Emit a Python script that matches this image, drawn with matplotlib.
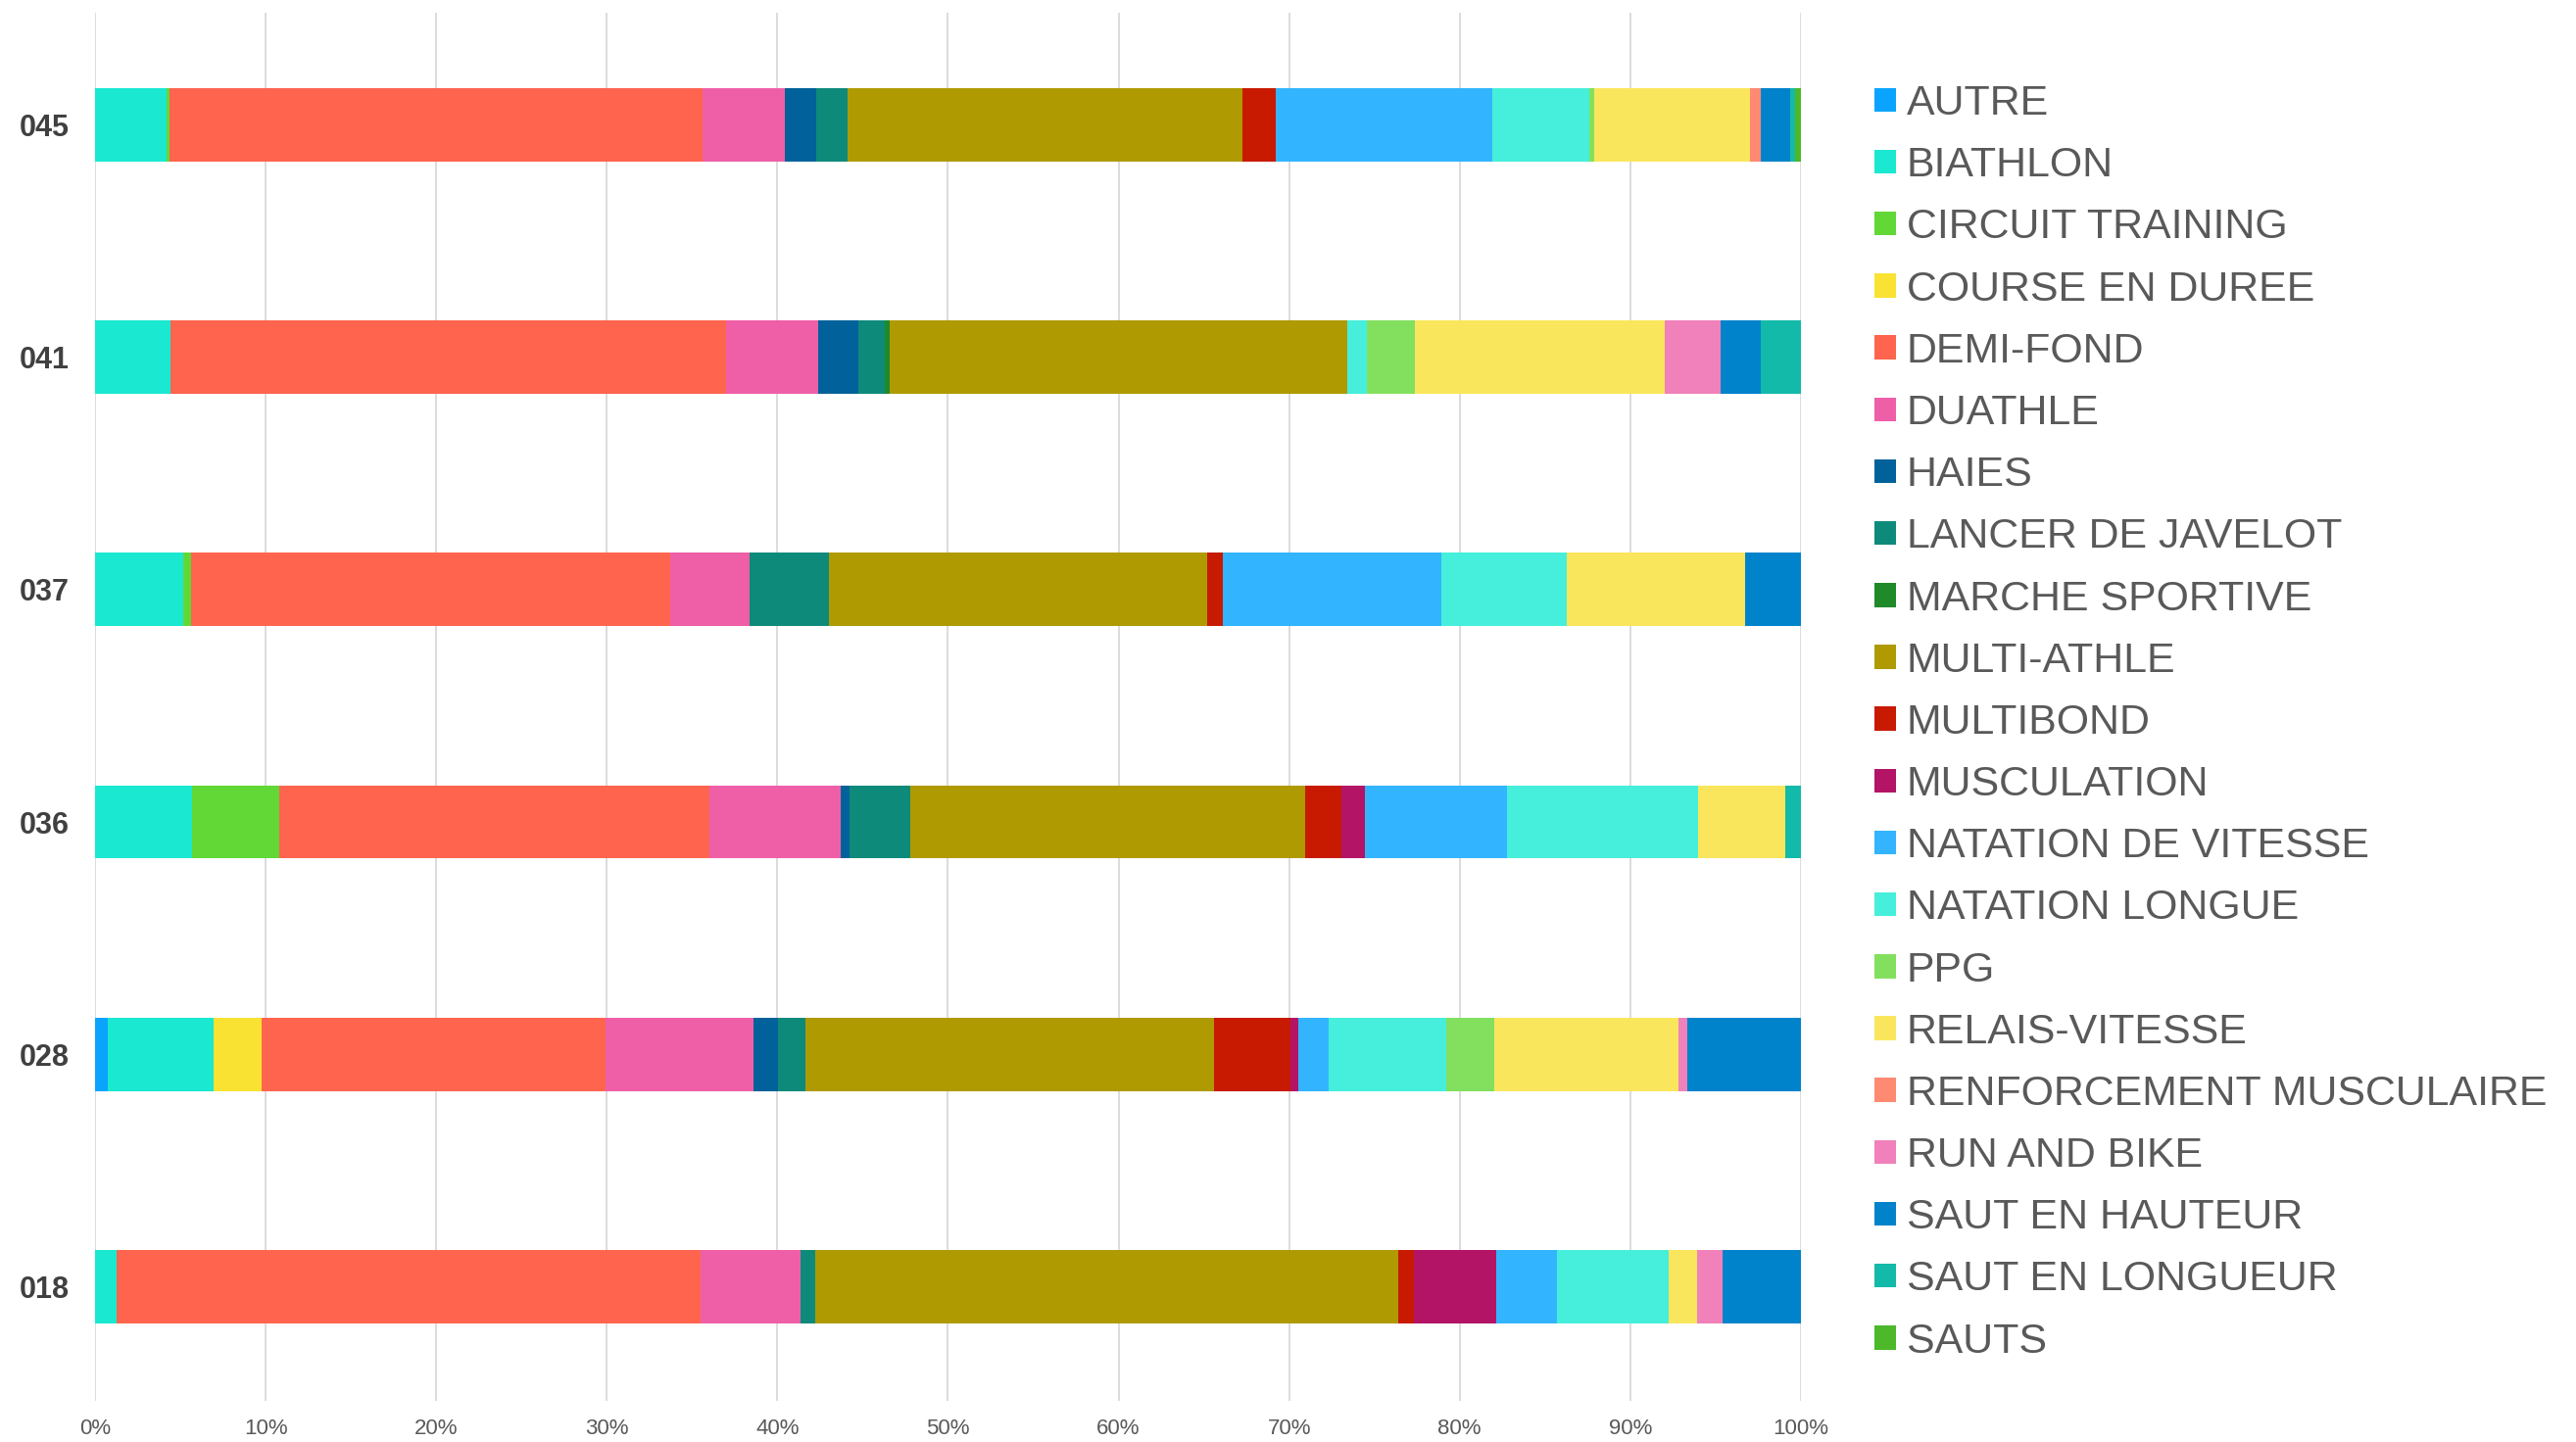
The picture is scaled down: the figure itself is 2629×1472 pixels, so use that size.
import numpy as np
import matplotlib.pyplot as plt
from matplotlib.patches import Patch
from matplotlib.ticker import PercentFormatter

plt.rcParams['font.family'] = ['Liberation Sans', 'DejaVu Sans']

# rows, bottom to top
groups = ['018', '028', '036', '037', '041', '045']

activities = [
    'AUTRE', 'BIATHLON', 'CIRCUIT TRAINING', 'COURSE EN DUREE', 'DEMI-FOND',
    'DUATHLE', 'HAIES', 'LANCER DE JAVELOT', 'MARCHE SPORTIVE', 'MULTI-ATHLE',
    'MULTIBOND', 'MUSCULATION', 'NATATION DE VITESSE', 'NATATION LONGUE', 'PPG',
    'RELAIS-VITESSE', 'RENFORCEMENT MUSCULAIRE', 'RUN AND BIKE',
    'SAUT EN HAUTEUR', 'SAUT EN LONGUEUR', 'SAUTS',
]

colors = [
    '#0AA4FF', '#1AE8D1', '#61D836', '#FAE232', '#FF644E',
    '#EF5FA7', '#01619A', '#0E8A7B', '#1E8A2A', '#AF9A02',
    '#C71A00', '#B31465', '#33B4FF', '#45EFDB', '#83E05F',
    '#FAE65C', '#FF8A72', '#F081BA', '#0183CC', '#13B9A9', '#4CB82A',
]

# share (%) per activity, one list per group in the order of `groups`
g018 = [0, 1.29, 0, 0, 34.23, 5.86, 0, 0.81, 0, 34.23, 0.91, 4.81, 3.55, 6.54, 0,
        1.66, 0, 1.49, 4.62, 0, 0]
g028 = [0.74, 6.22, 0, 2.8, 20.16, 8.66, 1.45, 1.64, 0, 23.94, 4.49, 0.42, 1.8, 6.89, 2.8,
        10.83, 0, 0.49, 6.67, 0, 0]
g036 = [0, 5.67, 5.12, 0, 25.25, 7.66, 0.55, 3.54, 0, 23.13, 2.14, 1.4, 8.33, 11.19, 0,
        5.08, 0, 0, 0, 0.94, 0]
g037 = [0, 5.15, 0.45, 0, 28.12, 4.67, 0, 4.61, 0, 22.22, 0.92, 0, 12.78, 7.35, 0,
        10.48, 0, 0, 3.25, 0, 0]
g041 = [0, 4.44, 0, 0, 32.53, 5.41, 2.39, 1.54, 0.26, 26.82, 0, 0, 0, 1.17, 2.8,
        14.67, 0, 3.25, 2.38, 2.34, 0]
g045 = [0, 4.2, 0.15, 0, 31.25, 4.85, 1.85, 1.8, 0, 23.14, 1.99, 0, 12.67, 5.7, 0.3,
        9.1, 0.66, 0, 1.69, 0.32, 0.33]

values = np.array([g018, g028, g036, g037, g041, g045], dtype=float)
values = values / values.sum(axis=1, keepdims=True) * 100

fig = plt.figure(figsize=(26.29, 14.72), dpi=100)
ax = fig.add_axes([0.0369, 0.0285, 0.6622, 0.9625])

y = np.arange(len(groups))
left = np.zeros(len(groups))
for i, name in enumerate(activities):
    ax.barh(y, values[:, i], left=left, height=0.315, color=colors[i],
            linewidth=0, label=name, zorder=3)
    left += values[:, i]

ax.set_xlim(0, 100)
ax.set_ylim(-0.49, 5.48)
ax.set_xticks(np.arange(0, 101, 10))
ax.xaxis.set_major_formatter(PercentFormatter(decimals=0))
ax.set_yticks(y)
ax.set_yticklabels(groups, fontweight='bold')
ax.grid(axis='x', color='#D9D9D9', linewidth=1.3, zorder=0)
ax.set_axisbelow(True)
for s in ax.spines.values():
    s.set_visible(False)
ax.tick_params(axis='x', length=0, pad=13, labelsize=16, labelcolor='#595959')
ax.tick_params(axis='y', length=0, pad=19, labelsize=22, labelcolor='#404040')

handles = [Patch(facecolor=c, edgecolor='none') for c in colors]
fig.legend(handles, activities, loc='upper left', bbox_to_anchor=(0.7278, 0.9415),
           frameon=False, fontsize=30.9, labelcolor='#595959',
           handlelength=0.5, handleheight=0.5, handletextpad=0.25,
           labelspacing=0.54, borderpad=0, borderaxespad=0)

fig.savefig('out.png', dpi=100)
